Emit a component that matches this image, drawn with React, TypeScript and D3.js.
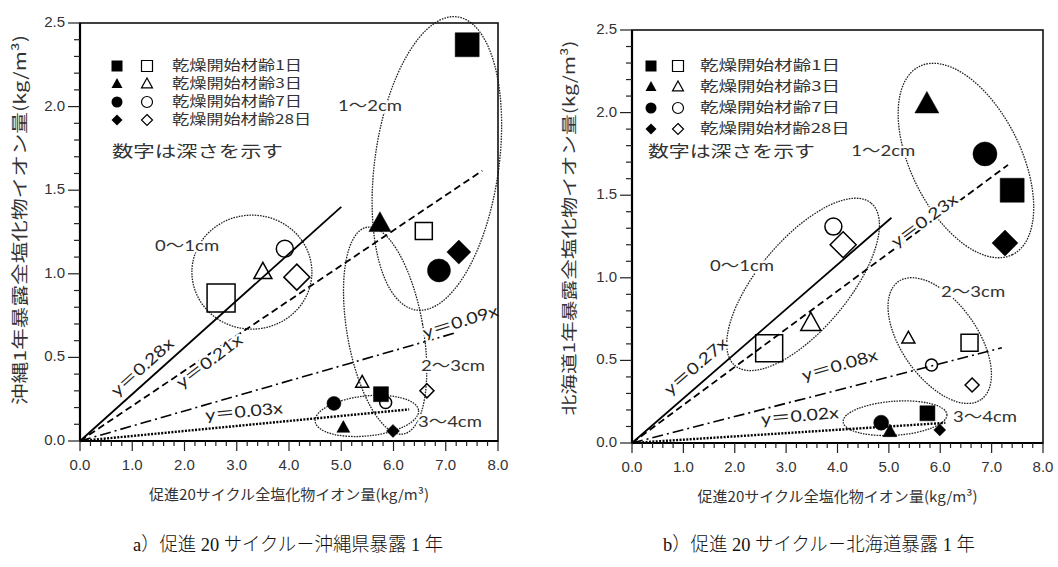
import React from 'react';
import * as d3 from 'd3';

// ---------- shared data ----------
const xTicks = [0, 1, 2, 3, 4, 5, 6, 7, 8];
const yTicks = [0, 0.5, 1.0, 1.5, 2.0, 2.5];
const legendLabels = ['乾燥開始材齢1日', '乾燥開始材齢3日', '乾燥開始材齢7日', '乾燥開始材齢28日'];
const legendAges = [1, 3, 7, 28];
const noteText = '数字は深さを示す';
const xTitle = '促進20サイクル全塩化物イオン量(kg/m³)';
const groupLabels = ['0～1cm', '1～2cm', '2～3cm', '3～4cm'];

// ---------- panel a (Okinawa) ----------
const aYTitle = '沖縄1年暴露全塩化物イオン量(kg/m³)';
const aCaption = 'a）促進 20 サイクル－沖縄県暴露 1 年';
const aAge = [1, 1, 3, 7, 28, 1, 3, 7, 28, 3, 7, 28, 1, 7, 3, 28];
const aFilled = [1, 0, 1, 1, 1, 0, 0, 0, 0, 0, 0, 0, 1, 1, 1, 1];
const aX = [7.41, 6.58, 5.74, 6.87, 7.25, 2.70, 3.50, 3.92, 4.15, 5.40, 5.85, 6.64, 5.76, 4.86, 5.04, 5.99];
const aY = [2.37, 1.256, 1.30, 1.02, 1.13, 0.855, 1.01, 1.15, 0.98, 0.35, 0.23, 0.30, 0.28, 0.225, 0.08, 0.06];
const aSlope = [0.28, 0.21, 0.09, 0.03];
const aLineEnd = [5.0, 7.7, 7.2, 6.3];
const aLineLabel = ['y＝0.28x', 'y＝0.21x', 'y＝0.09x', 'y＝0.03x'];
const aLineLabelX = [1.21, 2.49, 7.29, 3.14];
const aLineLabelY = [0.436, 0.47, 0.705, 0.167];
const aGroupCx = [3.29, 6.83, 5.84, 5.49];
const aGroupCy = [1.01, 1.66, 0.66, 0.15];
const aGroupLabelX = [2.05, 5.55, 7.14, 7.08];
const aGroupLabelY = [1.16, 2.0, 0.44, 0.11];

// ---------- panel b (Hokkaido) ----------
const bYTitle = '北海道1年暴露全塩化物イオン量(kg/m³)';
const bCaption = 'b）促進 20 サイクル－北海道暴露 1 年';
const bAge = [3, 7, 1, 28, 7, 28, 3, 1, 3, 1, 7, 28, 1, 7, 3, 28];
const bFilled = [1, 1, 1, 1, 0, 0, 0, 0, 0, 0, 0, 0, 1, 1, 1, 1];
const bX = [5.74, 6.87, 7.40, 7.26, 3.92, 4.11, 3.48, 2.67, 5.38, 6.57, 5.83, 6.62, 5.75, 4.85, 5.02, 5.99];
const bY = [2.05, 1.75, 1.53, 1.21, 1.31, 1.20, 0.725, 0.573, 0.634, 0.607, 0.472, 0.351, 0.18, 0.123, 0.069, 0.079];
const bSlope = [0.27, 0.23, 0.08, 0.02];
const bLineEnd = [5.05, 7.32, 7.2, 6.1];
const bLineLabel = ['y＝0.27x', 'y＝0.23x', 'y＝0.08x', 'y＝0.02x'];
const bLineLabelX = [1.26, 5.71, 4.05, 3.27];
const bLineLabelY = [0.458, 1.34, 0.462, 0.155];
const bGroupCx = [3.33, 6.50, 5.99, 5.12];
const bGroupCy = [0.96, 1.71, 0.62, 0.15];
const bGroupLabelX = [2.14, 4.89, 6.64, 6.87];
const bGroupLabelY = [1.067, 1.76, 0.906, 0.15];

// ---------- styles (not data) ----------
const shapeOfAge: Record<number, string> = { 1: 'square', 3: 'triangle', 7: 'circle', 28: 'diamond' };
const lineDash = ['none', '7,4', '11,4,2,4', '2,1.4'];
const lineWidth = [1.8, 1.8, 1.6, 2.4];
const aMarkerPx = [24, 17, 22, 23, 24, 28, 18, 17, 26, 13, 12, 14, 15, 14, 13, 13];
const bMarkerPx = [24, 24, 24, 26, 17, 26, 20, 27, 13, 17, 12, 14, 15, 15, 14, 12];
const aLineAngle = [-41.9, -37, -17, -5.5];
const bLineAngle = [-40.9, -36.4, -16, -5];
const aEllipse = [
  { rx: 60, ry: 57, rot: 0 },
  { rx: 62, ry: 148, rot: 8 },
  { rx: 38, ry: 105, rot: -10 },
  { rx: 52, ry: 20, rot: -6 },
];
const bEllipse = [
  { rx: 106, ry: 45, rot: -50 },
  { rx: 105, ry: 55, rot: 63.7 },
  { rx: 72, ry: 38, rot: 55 },
  { rx: 52, ry: 17, rot: -4 },
];

const SANS = 'Lato, "Noto Sans CJK JP", sans-serif';
const TICKF = '"Liberation Sans", Arial, sans-serif';
const CJK = '"Noto Sans CJK JP", sans-serif';

function markerPath(shape: string, s: number): string {
  const h = s / 2;
  if (shape === 'square') return `M${-h},${-h}h${s}v${s}h${-s}Z`;
  if (shape === 'triangle') {
    const th = s * 0.9;
    return `M0,${-th * 0.6}L${h},${th * 0.4}L${-h},${th * 0.4}Z`;
  }
  if (shape === 'diamond') return `M0,${-h}L${h},0L0,${h}L${-h},0Z`;
  return `M${h},0A${h},${h} 0 1,1 ${-h},0A${h},${h} 0 1,1 ${h},0Z`;
}

type PanelProps = {
  box: { left: number; right: number; top: number; bottom: number };
  age: number[]; filled: number[]; xs: number[]; ys: number[]; msize: number[];
  slope: number[]; lineEnd: number[]; lineLabel: string[]; llx: number[]; lly: number[]; langle: number[];
  gcx: number[]; gcy: number[]; glx: number[]; gly: number[]; ell: { rx: number; ry: number; rot: number }[];
  yTitle: string; yTitleX: number; yTitleY: number; yTitleLen: number; yTitleSize: number;
  caption: string; captionX: number; captionLen: number;
  legend: { fx: number; ox: number; tx: number; rows: number[]; textLen: number; noteY: number; noteX: number; noteLen: number };
  xTitleLen: number;
};

function Panel(p: PanelProps) {
  const { box } = p;
  const x = d3.scaleLinear().domain([0, 8]).range([box.left, box.right]);
  const y = d3.scaleLinear().domain([0, 2.5]).range([box.bottom, box.top]);
  const xMinor = d3.range(0, 8.0001, 0.2);
  const yMinor = d3.range(0, 2.5001, 0.1);
  const halo = { paintOrder: 'stroke', stroke: '#fff', strokeWidth: 4, strokeLinejoin: 'round' as const };
  return (
    <g>
      {/* ellipses */}
      {p.ell.map((e, i) => (
        <ellipse key={'e' + i} cx={0} cy={0} rx={e.rx} ry={e.ry}
          transform={`translate(${x(p.gcx[i])},${y(p.gcy[i])}) rotate(${e.rot})`}
          fill="none" stroke="#222" strokeWidth={1.3} strokeDasharray="1.6,1.1" />
      ))}
      {/* regression lines */}
      {p.slope.map((s, i) => (
        <line key={'l' + i} x1={x(0)} y1={y(0)} x2={x(p.lineEnd[i])} y2={y(s * p.lineEnd[i])}
          stroke="#000" strokeWidth={lineWidth[i]} strokeDasharray={lineDash[i]} />
      ))}
      {/* markers */}
      {p.xs.map((v, i) => (
        <path key={'m' + i} d={markerPath(shapeOfAge[p.age[i]], p.msize[i])}
          transform={`translate(${x(v)},${y(p.ys[i])})`}
          fill={p.filled[i] ? '#000' : 'none'} stroke="#000" strokeWidth={p.filled[i] ? 0.5 : 1.5} />
      ))}
      {/* line labels */}
      {p.lineLabel.map((t, i) => (
        <text key={'ll' + i} x={0} y={0} transform={`translate(${x(p.llx[i])},${y(p.lly[i])}) rotate(${p.langle[i]})`}
          textAnchor="middle" dominantBaseline="middle" fontFamily={SANS} fontSize={16} fill="#222" style={halo}
          textLength={78} lengthAdjust="spacingAndGlyphs">{t}</text>
      ))}
      {/* group labels */}
      {groupLabels.map((t, i) => (
        <text key={'gl' + i} x={x(p.glx[i])} y={y(p.gly[i])} textAnchor="middle" dominantBaseline="middle"
          fontFamily={SANS} fontSize={16} fill="#333" style={halo} textLength={64} lengthAdjust="spacingAndGlyphs">{t}</text>
      ))}
      {/* frame */}
      <rect x={box.left} y={box.top} width={box.right - box.left} height={box.bottom - box.top}
        fill="none" stroke="#111" strokeWidth={1.6} />
      <line x1={box.left} x2={box.left} y1={box.top} y2={box.bottom} stroke="#000" strokeWidth={2.2} />
      <line x1={box.left} x2={box.right} y1={box.bottom} y2={box.bottom} stroke="#000" strokeWidth={2.2} />
      {/* ticks */}
      {yMinor.map((v, i) => (
        <line key={'ym' + i} x1={box.left} x2={box.left - (i % 5 === 0 ? 12 : 6)} y1={y(v)} y2={y(v)} stroke="#222" strokeWidth={1.2} />
      ))}
      {xMinor.map((v, i) => (
        <line key={'xm' + i} y1={box.bottom} y2={box.bottom + (i % 5 === 0 ? 10 : 5)} x1={x(v)} x2={x(v)} stroke="#222" strokeWidth={1.2} />
      ))}
      {yTicks.map((v) => (
        <text key={'yt' + v} x={box.left - 15} y={y(v)} textAnchor="end" dominantBaseline="middle"
          fontFamily={TICKF} fontSize={15} fill="#333">{v.toFixed(1)}</text>
      ))}
      {xTicks.map((v) => (
        <text key={'xt' + v} x={x(v)} y={box.bottom + 25} textAnchor="middle" dominantBaseline="middle"
          fontFamily={TICKF} fontSize={15} fill="#333">{v.toFixed(1)}</text>
      ))}
      {/* legend */}
      {legendAges.map((a, i) => (
        <g key={'lg' + i}>
          <path d={markerPath(shapeOfAge[a], 11)} transform={`translate(${p.legend.fx},${p.legend.rows[i]})`} fill="#000" />
          <path d={markerPath(shapeOfAge[a], 11)} transform={`translate(${p.legend.ox},${p.legend.rows[i]})`} fill="none" stroke="#000" strokeWidth={1.2} />
          <text x={p.legend.tx} y={p.legend.rows[i]} dominantBaseline="middle" fontFamily={CJK} fontSize={13.5} fill="#333"
            textLength={p.legend.textLen * (i === 3 ? 1.07 : 1)} lengthAdjust="spacingAndGlyphs">{legendLabels[i]}</text>
        </g>
      ))}
      <text x={p.legend.noteX} y={p.legend.noteY} dominantBaseline="middle" fontFamily={CJK} fontSize={16} fill="#333"
        textLength={p.legend.noteLen} lengthAdjust="spacingAndGlyphs">{noteText}</text>
      {/* axis titles */}
      <text x={(box.left + box.right) / 2} y={box.bottom + 55} textAnchor="middle" dominantBaseline="middle"
        fontFamily={CJK} fontSize={14.5} fill="#333" textLength={p.xTitleLen} lengthAdjust="spacingAndGlyphs">{xTitle}</text>
      <text transform={`translate(${p.yTitleX},${p.yTitleY}) rotate(-90)`} textAnchor="middle" dominantBaseline="middle"
        fontFamily={CJK} fontSize={p.yTitleSize} fill="#333" textLength={p.yTitleLen} lengthAdjust="spacingAndGlyphs">{p.yTitle}</text>
      {/* caption */}
      <text x={p.captionX} y={547} dominantBaseline="middle" fontFamily={'"Liberation Serif", "Noto Sans CJK JP", serif'}
        fontSize={19} fontWeight={300} fill="#111" textLength={p.captionLen} lengthAdjust="spacingAndGlyphs">{p.caption}</text>
    </g>
  );
}

export default function App() {
  return (
    <svg width={1058} height={567} viewBox="0 0 1058 567"
      style={{ position: 'absolute', left: 0, top: 0, background: '#fff' }}>
      <rect width={1058} height={567} fill="#fff" />
      <Panel box={{ left: 80, right: 498, top: 23, bottom: 441 }}
        age={aAge} filled={aFilled} xs={aX} ys={aY} msize={aMarkerPx}
        slope={aSlope} lineEnd={aLineEnd} lineLabel={aLineLabel} llx={aLineLabelX} lly={aLineLabelY} langle={aLineAngle}
        gcx={aGroupCx} gcy={aGroupCy} glx={aGroupLabelX} gly={aGroupLabelY} ell={aEllipse}
        yTitle={aYTitle} yTitleX={22} yTitleY={220} yTitleLen={370} yTitleSize={16.5}
        caption={aCaption} captionX={133} captionLen={310}
        legend={{ fx: 117, ox: 147, tx: 172, rows: [66, 84, 102, 120], textLen: 130, noteY: 153, noteX: 112, noteLen: 171 }}
        xTitleLen={280} />
      <Panel box={{ left: 632, right: 1043, top: 30, bottom: 443 }}
        age={bAge} filled={bFilled} xs={bX} ys={bY} msize={bMarkerPx}
        slope={bSlope} lineEnd={bLineEnd} lineLabel={bLineLabel} llx={bLineLabelX} lly={bLineLabelY} langle={bLineAngle}
        gcx={bGroupCx} gcy={bGroupCy} glx={bGroupLabelX} gly={bGroupLabelY} ell={bEllipse}
        yTitle={bYTitle} yTitleX={571} yTitleY={228} yTitleLen={375} yTitleSize={16}
        caption={bCaption} captionX={663} captionLen={312}
        legend={{ fx: 651, ox: 678, tx: 700, rows: [66, 87, 108, 129], textLen: 140, noteY: 153, noteX: 648, noteLen: 167 }}
        xTitleLen={280} />
    </svg>
  );
}
